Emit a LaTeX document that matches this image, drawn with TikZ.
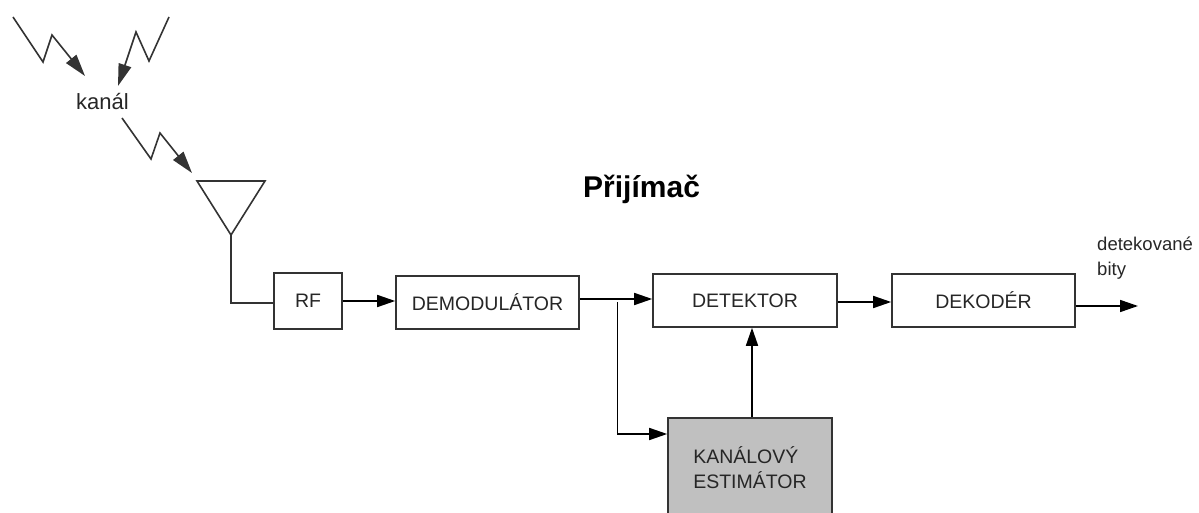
\documentclass[tikz,border=0pt]{standalone}
\usepackage{fontspec}
\setmainfont{Liberation Sans}
\usetikzlibrary{arrows.meta,calc}
\definecolor{linec}{HTML}{333333}
\definecolor{textc}{HTML}{262626}
\definecolor{estfill}{HTML}{C0C0C0}
\begin{document}
\begin{tikzpicture}[x=1pt,y=-1pt,
  blk/.style={draw=linec, line width=1.6pt, fill=white, inner sep=0pt,
    font=\fontsize{19.5}{25}\selectfont, text=textc},
  arr/.style={draw=black, line width=1.6pt, -{Triangle[length=18pt,width=12pt]}},
  bolt/.style={draw=linec, line width=1.6pt, line join=miter, -{Triangle[length=22pt,width=13pt]}},
  ln/.style={draw=linec, line width=1.6pt},
  lbl/.style={inner sep=0pt, text=textc}]
\useasboundingbox (0,0) rectangle (1199,513);
\clip (0,0) rectangle (1199,513);

% blocks
\node[blk, minimum width=68pt, minimum height=56pt] (rf) at (308,301) {RF};
\node[blk, minimum width=183pt, minimum height=53pt] (demod) at (487.5,302.5) {DEMODULÁTOR};
\node[blk, minimum width=184pt, minimum height=53pt] (det) at (745,300.5) {DETEKTOR};
\node[blk, minimum width=183pt, minimum height=53pt] (dek) at (983.5,300.5) {DEKODÉR};
\node[blk, fill=estfill, minimum width=164pt, minimum height=100pt, align=left] (est) at (750,468) {KANÁLOVÝ\\ESTIMÁTOR};

% labels
\node[lbl, font=\fontsize{22}{26}\selectfont, anchor=base] (kanal) at (102.5,110) {kanál};
\node[lbl, font=\bfseries\fontsize{30}{34}\selectfont, text=black, anchor=base west] (title) at (583,198) {Přijímač};
\node[lbl, font=\fontsize{18.5}{25}\selectfont, anchor=north west, align=left] (bity) at (1097,237) {detekované\\bity};

% radio links (lightning arrows)
\coordinate (l1s) at (13,17);  \coordinate (l1e) at (85,76);
\coordinate (l2s) at (169,17); \coordinate (l2e) at (118,86);
\coordinate (l3s) at (122,118); \coordinate (l3e) at (192,173);
\draw[bolt] (l1s) -- (43,62) -- (52,35) -- (l1e);
\draw[bolt] (l2s) -- (149,61) -- (136,32) -- (l2e);
\draw[bolt] (l3s) -- (151,159) -- (160,133) -- (l3e);

% antenna
\coordinate (antl) at (197,181);
\coordinate (antr) at (265,181);
\coordinate (ant) at (231,235);
\draw[ln, line join=miter] (antl) -- (antr) -- (ant) -- cycle;
\draw[ln] (ant) -- (231,303) -- (rf.west |- 0,303);

% signal flow
\draw[arr] (rf.east |- 0,301) -- (demod.west |- 0,301);
\draw[arr] (demod.east |- 0,299) -- (det.west |- 0,299);
\coordinate (br) at (617.5,302);
\coordinate (bc) at (617.5,434);
\draw[arr] (br) -- (bc) -- (est.west |- bc);
\draw[arr] (est.north -| 752,0) -- (det.south -| 752,0);
\draw[arr] (det.east |- 0,302) -- (dek.west |- 0,302);
\coordinate (out) at (1138,306);
\draw[arr] (dek.east |- out) -- (out);
\end{tikzpicture}
\end{document}
